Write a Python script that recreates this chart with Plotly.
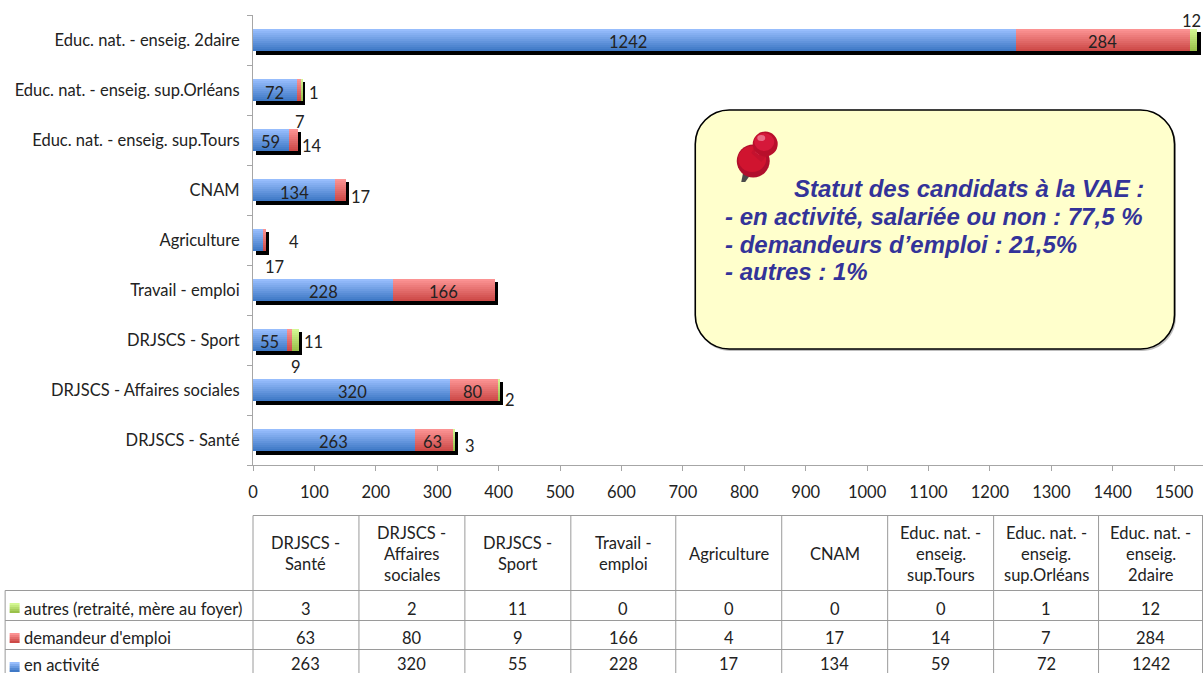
import plotly.graph_objects as go

W, H = 1203, 673
AXIS_LEFT, AXIS_TOP, AXIS_BOTTOM = 252.5, 15, 465
X_MAX = 1547

categories = ["DRJSCS - Santé", "DRJSCS - Affaires sociales", "DRJSCS - Sport", "Travail - emploi",
              "Agriculture", "CNAM", "Educ. nat. - enseig. sup.Tours",
              "Educ. nat. - enseig. sup.Orléans", "Educ. nat. - enseig. 2daire"]
en_activite = [263, 320, 55, 228, 17, 134, 59, 72, 1242]
demandeur = [63, 80, 9, 166, 4, 17, 14, 7, 284]
autres = [3, 2, 11, 0, 0, 0, 0, 1, 12]
series_names = ["autres (retraité, mère au foyer)", "demandeur d'emploi", "en activité"]
table_headers = [["DRJSCS -", "Santé"], ["DRJSCS -", "Affaires", "sociales"], ["DRJSCS -", "Sport"],
                 ["Travail -", "emploi"], ["Agriculture"], ["CNAM"],
                 ["Educ. nat. -", "enseig.", "sup.Tours"], ["Educ. nat. -", "enseig.", "sup.Orléans"],
                 ["Educ. nat. -", "enseig.", "2daire"]]
callout_lines = ["Statut des candidats à la VAE :", "- en activité, salariée ou non : 77,5 %",
                 "- demandeurs d’emploi : 21,5%", "- autres : 1%"]

# label displacement in pixels (dx right, dy down), per category index
blue_shift = {8: (-6, 2), 7: (-1, 3), 6: (-1, 2), 5: (0, 3), 4: (16, 27), 3: (0, 2), 2: (0, 2), 1: (1, 2), 0: (0, 2)}
red_shift = {8: (0, 2), 7: (1, 32), 6: (18, 6), 5: (20, 7), 4: (29, 2), 3: (0, 2), 2: (6, 27), 1: (-1, 2), 0: (-1, 2)}
green_shift = {8: (-2, -19), 7: (12, 3), 2: (18, 2), 1: (11, 10), 0: (16, 6)}

FONT = "Lato"
FS = 16.5
TXT = "#222222"
BLUE = ("#97BDFC", "#3F79C6")
RED = ("#FB9292", "#CD4A48")
GREEN = ("#D3F792", "#9AC14A")


def mix(c, t):
    a = [int(c[0][i:i + 2], 16) for i in (1, 3, 5)]
    b = [int(c[1][i:i + 2], 16) for i in (1, 3, 5)]
    return "rgb(%d,%d,%d)" % tuple(round(p + (q - p) * t) for p, q in zip(a, b))


# paper coordinates are relative to the plot area
px = lambda x: (x - AXIS_LEFT) / (W - AXIS_LEFT)
py = lambda y: (AXIS_BOTTOM - y) / (AXIS_BOTTOM - AXIS_TOP)

fig = go.Figure()
n = len(categories)
total = [a + b + c for a, b, c in zip(en_activite, demandeur, autres)]

# black drop shadow behind each stack
fig.add_trace(go.Bar(y=categories, x=total, base=5, orientation="h", width=0.46, offset=-0.30,
                     marker=dict(color="#000000", line_width=0), hoverinfo="skip", showlegend=False))

# stacked segments, painted in thin slices to give the vertical gradient
SLICES = 11
slice_h = 0.44 / SLICES
bases = [[0] * n, en_activite, [a + b for a, b in zip(en_activite, demandeur)]]
for vals, base, grad in zip([en_activite, demandeur, autres], bases, [BLUE, RED, GREEN]):
    for k in range(SLICES):
        fig.add_trace(go.Bar(y=categories, x=vals, base=base, orientation="h",
                             width=slice_h * 1.02, offset=0.22 - (k + 1) * slice_h,
                             marker=dict(color=mix(grad, k / (SLICES - 1)), line_width=0),
                             hoverinfo="skip", showlegend=False))

ann = []
shapes = []


def text(x, y, s, size=FS, anchor="center", color=TXT, family=FONT, xref="paper", yref="paper", dx=0, dy=0):
    ann.append(dict(x=x, y=y, xref=xref, yref=yref, text=s, showarrow=False, xanchor=anchor, yanchor="middle",
                    xshift=dx, yshift=dy, font=dict(family=family, size=size, color=color)))


# data labels
for vals, base, shift in zip([en_activite, demandeur, autres], bases, [blue_shift, red_shift, green_shift]):
    for i, v in enumerate(vals):
        if i in shift:
            text(base[i] + v / 2, categories[i], str(v), xref="x", yref="y", dx=shift[i][0], dy=-shift[i][1])


def line(x0, y0, x1, y1, color="#9a9a9a", width=1):
    shapes.append(dict(type="line", xref="paper", yref="paper", x0=px(x0), y0=py(y0), x1=px(x1), y1=py(y1),
                       line=dict(color=color, width=width)))


# data table
col_edges = [252.5, 358.5, 464.5, 570.5, 675.5, 781.5, 887.5, 993.5, 1098.5, 1202.5]
row_edges = [590.5, 620.5, 649.5]
line(252.5, 515.5, W, 515.5)
for r in row_edges:
    line(4.5, r, W, r)
line(4.5, 590.5, 4.5, H)
for e in col_edges:
    line(e, 515.5, e, H)
for c in range(n):
    cx = (col_edges[c] + col_edges[c + 1]) / 2
    lines = table_headers[c]
    for j, s in enumerate(lines):
        text(px(cx), py(553.5 + (j - (len(lines) - 1) / 2) * 21), s)
    for vals, y in zip([autres, demandeur, en_activite], [608.5, 637.5, 664]):
        text(px(cx), py(y), str(vals[c]))
for name, grad, y, ty in zip(series_names, [GREEN, RED, BLUE], [608, 638, 667], [608.5, 638, 665]):
    text(px(21.5), py(ty), name, anchor="left")
    for k in range(5):
        shapes.append(dict(type="rect", xref="paper", yref="paper", x0=px(9), x1=px(19),
                           y0=py(y - 5 + 2 * k), y1=py(y - 5 + 2 * k + 2), line_width=0,
                           fillcolor=mix(grad, k / 4)))


def round_rect(x0, y0, x1, y1, r):
    c = 0.45 * r
    pts = [("M", x0 + r, y0), ("L", x1 - r, y0), ("C", x1 - c, y0, x1, y0 + c, x1, y0 + r), ("L", x1, y1 - r),
           ("C", x1, y1 - c, x1 - c, y1, x1 - r, y1), ("L", x0 + r, y1), ("C", x0 + c, y1, x0, y1 - c, x0, y1 - r),
           ("L", x0, y0 + r), ("C", x0, y0 + c, x0 + c, y0, x0 + r, y0)]
    out = ""
    for p in pts:
        out += p[0] + " ".join("%.5f,%.5f" % (px(p[i]), py(p[i + 1])) for i in range(1, len(p), 2)) + " "
    return out + "Z"


# callout
shapes.append(dict(type="path", xref="paper", yref="paper", path=round_rect(696, 111, 1176, 351, 34),
                   fillcolor="#BDBDBD", line_width=0))
shapes.append(dict(type="path", xref="paper", yref="paper", path=round_rect(695, 110, 1174.5, 349, 34),
                   fillcolor="#FFFFCC", line=dict(color="#000000", width=1.6)))
CALL_FONT = "Liberation Sans"
for s, x, y in zip(callout_lines, [792, 723, 723, 723], [188, 216, 244, 271]):
    text(px(x), py(y), "<b><i>%s</i></b>" % s, size=24, anchor="left", color="#333399", family=CALL_FONT)


# push-pin
def circle(cx, cy, rx, ry, color):
    shapes.append(dict(type="circle", xref="paper", yref="paper", x0=px(cx - rx), x1=px(cx + rx),
                       y0=py(cy - ry), y1=py(cy + ry), fillcolor=color, line_width=0))


def poly(pts, color):
    path = "M" + " L".join("%.5f,%.5f" % (px(a), py(b)) for a, b in pts) + " Z"
    shapes.append(dict(type="path", xref="paper", yref="paper", path=path, fillcolor=color, line_width=0))


poly([(743, 172), (750, 175), (745, 182), (741, 182)], "#4A4A4A")
circle(753, 161, 16.5, 16.5, "#B00F2C")
circle(752, 159, 14, 13, "#D0142F")
poly([(751, 153), (759, 139), (772, 150), (761, 162)], "#C4122E")
poly([(755, 152), (761, 143), (765, 146), (759, 155)], "#E0506A")
circle(765, 144, 12.5, 12.5, "#B80F2B")
circle(764, 142, 10, 9, "#D5183A")
circle(761, 138, 4, 3, "#E96A84")

fig.update_layout(
    width=W, height=H, autosize=False, barmode="overlay", bargap=0,
    paper_bgcolor="white", plot_bgcolor="white", showlegend=False,
    margin=dict(l=AXIS_LEFT, r=0, t=AXIS_TOP, b=H - AXIS_BOTTOM, pad=0),
    font=dict(family=FONT, size=FS, color=TXT),
    annotations=ann, shapes=shapes,
    xaxis=dict(range=[0, X_MAX], dtick=100, showgrid=False, zeroline=False, showline=True, linecolor="#a6a6a6",
               linewidth=1, ticks="outside", ticklen=5, tickcolor="#a6a6a6",
               tickfont=dict(family=FONT, size=FS, color=TXT), ticklabelstandoff=7),
    yaxis=dict(type="category", categoryorder="array", categoryarray=categories, range=[-0.5, 8.5], showgrid=False,
               zeroline=False, showline=True, linecolor="#a6a6a6", linewidth=1, ticks="outside", ticklen=5,
               tickcolor="#a6a6a6", tickson="boundaries", tickfont=dict(family=FONT, size=FS, color=TXT),
               ticklabelstandoff=9),
)
fig.write_html("out.html", config=dict(displayModeBar=False),
               post_script="document.body.style.margin='0';document.body.style.overflow='hidden';")
